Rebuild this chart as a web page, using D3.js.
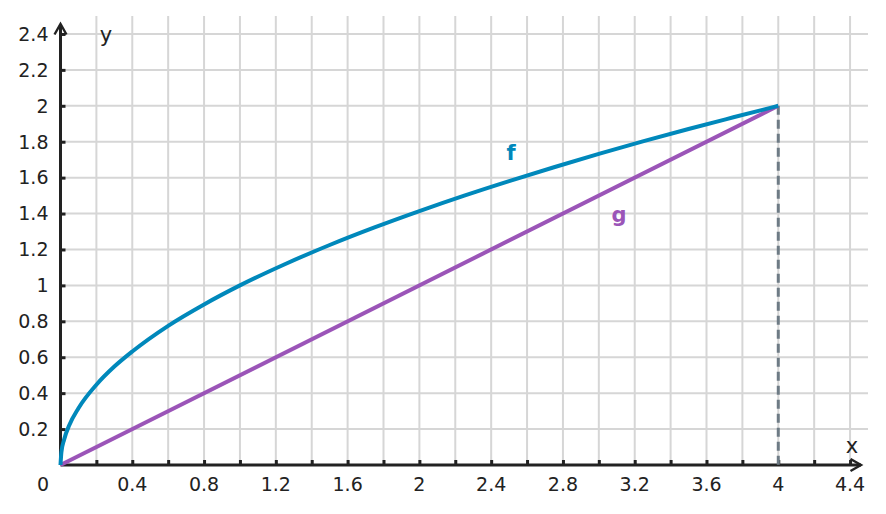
<!DOCTYPE html>
<html>
<head>
<meta charset="utf-8">
<script src="https://cdn.jsdelivr.net/npm/d3@7"></script>
<style>
  body { margin: 0; background: #fff; }
  text { font-family: "DejaVu Sans", sans-serif; fill: #222; }
</style>
</head>
<body>
<script>
// values
var fX = [0, 0.005, 0.02, 0.05, 0.1, 0.2, 0.3, 0.4, 0.6, 0.8, 1, 1.25, 1.5, 1.75, 2, 2.25, 2.5, 2.75, 3, 3.25, 3.5, 3.75, 4];
var fY = [0, 0.071, 0.141, 0.224, 0.316, 0.447, 0.548, 0.632, 0.775, 0.894, 1, 1.118, 1.225, 1.323, 1.414, 1.5, 1.581, 1.658, 1.732, 1.803, 1.871, 1.936, 2];
var gX = [0, 4];
var gY = [0, 2];
var xTickLabels = [0.4, 0.8, 1.2, 1.6, 2, 2.4, 2.8, 3.2, 3.6, 4, 4.4];
var yTickLabels = [0.2, 0.4, 0.6, 0.8, 1, 1.2, 1.4, 1.6, 1.8, 2, 2.2, 2.4];
var gridX = d3.range(1, 23).map(function(i){ return +(i * 0.2).toFixed(1); });
var gridY = d3.range(1, 13).map(function(i){ return +(i * 0.2).toFixed(1); });

var width = 886, height = 514;

var x = d3.scaleLinear().domain([0, 4.5]).range([60.5, 868]);
var y = d3.scaleLinear().domain([0, 2.5]).range([465, 16]);

var svg = d3.select("body").append("svg")
  .attr("width", width)
  .attr("height", height);

// grid
svg.append("g").selectAll("line").data(gridX).enter().append("line")
  .attr("x1", function(d){ return x(d); }).attr("x2", function(d){ return x(d); })
  .attr("y1", y(2.5)).attr("y2", y(0))
  .attr("stroke", "#d6d6d6").attr("stroke-width", 2);
svg.append("g").selectAll("line").data(gridY).enter().append("line")
  .attr("y1", function(d){ return y(d); }).attr("y2", function(d){ return y(d); })
  .attr("x1", x(0)).attr("x2", x(4.5))
  .attr("stroke", "#d6d6d6").attr("stroke-width", 2);

// arrow marker
svg.append("defs").append("marker")
  .attr("id", "arr")
  .attr("viewBox", "0 0 10 10")
  .attr("refX", 8).attr("refY", 5)
  .attr("markerWidth", 5).attr("markerHeight", 5)
  .attr("markerUnits", "strokeWidth")
  .attr("orient", "auto")
  .append("path")
  .attr("d", "M1,1 L8,5 L1,9")
  .attr("fill", "none").attr("stroke", "#222").attr("stroke-width", 1.6);

// axes
var xAxis = d3.axisTop(x).tickValues(gridX).tickSize(5).tickFormat("");
var yAxis = d3.axisRight(y).tickValues(gridY).tickSize(5).tickFormat("");
var gx = svg.append("g").attr("transform", "translate(0," + y(0) + ")").call(xAxis);
var gy = svg.append("g").attr("transform", "translate(" + x(0) + ",0)").call(yAxis);
[gx, gy].forEach(function(g){
  g.select(".domain").remove();
  g.selectAll(".tick line").attr("stroke", "#222").attr("stroke-width", 3);
});

svg.append("line")
  .attr("x1", x(0)).attr("x2", 861).attr("y1", y(0)).attr("y2", y(0))
  .attr("stroke", "#222").attr("stroke-width", 3).attr("marker-end", "url(#arr)");
svg.append("line")
  .attr("x1", x(0)).attr("x2", x(0)).attr("y1", y(0)).attr("y2", 24)
  .attr("stroke", "#222").attr("stroke-width", 3).attr("marker-end", "url(#arr)");

// tick labels
svg.append("g").selectAll("text").data(xTickLabels).enter().append("text")
  .attr("x", function(d){ return x(d); })
  .attr("y", 491)
  .attr("text-anchor", "middle")
  .style("font-size", "19px")
  .text(function(d){ return d; });
svg.append("text").attr("x", 43).attr("y", 491).attr("text-anchor", "middle")
  .style("font-size", "19px").text("0");
svg.append("g").selectAll("text").data(yTickLabels).enter().append("text")
  .attr("x", 48.5)
  .attr("y", function(d){ return y(d); })
  .attr("dy", "0.36em")
  .attr("text-anchor", "end")
  .style("font-size", "19px")
  .text(function(d){ return d; });

svg.append("text").attr("x", 852).attr("y", 453).attr("text-anchor", "middle")
  .style("font-size", "21px").text("x");
svg.append("text").attr("x", 106).attr("y", 42).attr("text-anchor", "middle")
  .style("font-size", "21px").text("y");

// dashed x = 4
svg.append("line")
  .attr("x1", x(4)).attr("x2", x(4)).attr("y1", y(2)).attr("y2", y(0))
  .attr("stroke", "#6e7b85").attr("stroke-width", 3).attr("stroke-dasharray", "9,5");

// curves
var line = d3.line().x(function(d){ return x(d[0]); }).y(function(d){ return y(d[1]); });
svg.append("path")
  .datum(d3.zip(gX, gY))
  .attr("d", line)
  .attr("fill", "none").attr("stroke", "#9b55b8").attr("stroke-width", 4);
svg.append("path")
  .datum(d3.zip(fX, fY))
  .attr("d", line.curve(d3.curveMonotoneX))
  .attr("fill", "none").attr("stroke", "#0088bb").attr("stroke-width", 4);

// labels
svg.append("text").attr("x", 511).attr("y", 160).attr("text-anchor", "middle")
  .style("font-size", "21px").style("font-weight", "bold").style("fill", "#0088bb").text("f");
svg.append("text").attr("x", 619).attr("y", 222).attr("text-anchor", "middle")
  .style("font-size", "21px").style("font-weight", "bold").style("fill", "#9b55b8").text("g");
</script>
</body>
</html>
